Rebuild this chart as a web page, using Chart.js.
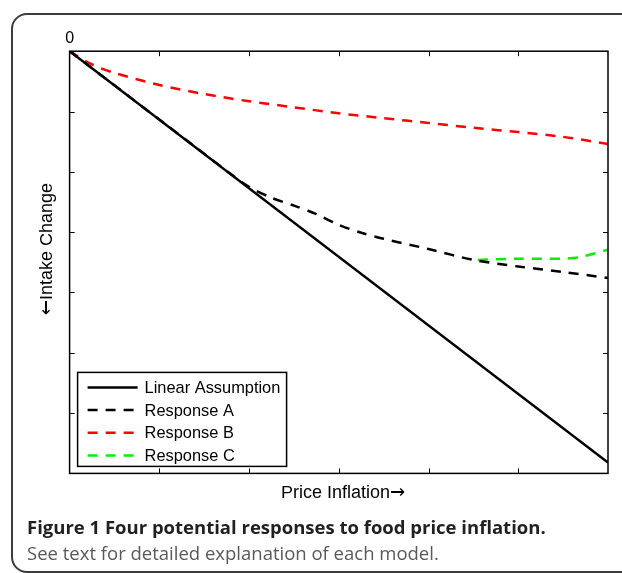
<!DOCTYPE html>
<html lang="en">
  <head>
    <meta charset="UTF-8" />
    <title>Four potential responses to food price inflation</title>
    <script src="https://cdn.jsdelivr.net/npm/chart.js@4.4.1/dist/chart.umd.min.js"></script>
  </head>
  <style>
    /* arrows from DejaVu, letters from Liberation */
    @font-face{
      font-family: "AxisFont";
      src: local("DejaVu Sans");
      unicode-range: U+2190-2193;
    }
    @font-face{
      font-family: "AxisFont";
      src: local("Liberation Sans");
      unicode-range: U+0000-218F;
    }
    body{
      margin: 0;
      width: 622px;
      height: 573px;
      overflow: hidden;
      position: relative;
      background: #fff;
    }
    .frame{
      position: absolute;
      left: 11px;
      top: 13px;
      width: 650px;
      height: 560px;
      border: 2px solid #3c3c3c;
      border-radius: 16px;
      box-sizing: border-box;
    }
    .mainBox{
      position: absolute;
      left: 0;
      top: 0;
      width: 622px;
      height: 573px;
    }
    .caption{
      position: absolute;
      left: 27px;
      top: 514px;
      font-family: "Open Sans", sans-serif;
      font-size: 18.5px;
      line-height: 26px;
      color: #58595b;
      white-space: nowrap;
    }
    .caption b{
      color: #231f20;
    }
  </style>

  <body>
    <div class="frame"></div>
    <div class="mainBox">
      <canvas id="myChart" width="622" height="573"></canvas>
    </div>
    <div class="caption">
      <b>Figure 1 Four potential responses to food price inflation.</b><br>
      See text for detailed explanation of each model.
    </div>
  </body>

  <script>
    // values (x: price inflation, y: intake change)
    var linearX = [0, 6];
    var linearY = [0, -6.82];

    var respAX = [0, 1.5, 1.8, 2, 2.25, 2.5, 2.75, 3, 3.25, 3.5, 4, 4.5, 5, 5.5, 6];
    var respAY = [0, -1.70, -2.04, -2.25, -2.43, -2.56, -2.70, -2.88, -3.01, -3.11, -3.28, -3.46, -3.57, -3.66, -3.76];

    var respBX = [0, 0.25, 0.5, 1, 1.5, 2, 2.5, 3, 3.5, 4, 4.5, 5, 5.5, 6];
    var respBY = [0, -0.22, -0.36, -0.56, -0.71, -0.83, -0.93, -1.03, -1.11, -1.19, -1.27, -1.34, -1.42, -1.54];

    var respCX = [4.55, 5, 5.5, 5.7, 6];
    var respCY = [-3.46, -3.44, -3.44, -3.41, -3.29];

    var xTicks = [1, 2, 3, 4, 5];
    var yTicks = [-1, -2, -3, -4, -5, -6];

    function toPoints(xs, ys){
      return xs.map(function(x, i){ return {x: x, y: ys[i]}; });
    }

    // box, inward tick marks and the legend inside the plot
    var matlabAxes = {
      id: 'matlabAxes',
      afterDatasetsDraw: function(chart){
        var ctx = chart.ctx;
        var a = chart.chartArea;
        var xs = chart.scales.x, ys = chart.scales.y;
        ctx.save();
        ctx.strokeStyle = '#000';
        ctx.lineWidth = 1.5;
        ctx.setLineDash([]);
        ctx.strokeRect(a.left, a.top, a.right - a.left, a.bottom - a.top);
        ctx.lineWidth = 1;
        ctx.beginPath();
        xTicks.forEach(function(v){
          var px = Math.round(xs.getPixelForValue(v)) + 0.5;
          ctx.moveTo(px, a.bottom); ctx.lineTo(px, a.bottom - 5);
          ctx.moveTo(px, a.top); ctx.lineTo(px, a.top + 5);
        });
        yTicks.forEach(function(v){
          var py = Math.round(ys.getPixelForValue(v)) + 0.5;
          ctx.moveTo(a.left, py); ctx.lineTo(a.left + 5, py);
          ctx.moveTo(a.right, py); ctx.lineTo(a.right - 5, py);
        });
        ctx.stroke();

        // legend
        var bx = a.left + 8, bw = 209, bh = 94;
        var by = a.bottom - 7 - bh;
        ctx.fillStyle = '#fff';
        ctx.fillRect(bx, by, bw, bh);
        ctx.lineWidth = 1.5;
        ctx.strokeRect(bx, by, bw, bh);
        ctx.font = '16.4px "Liberation Sans", Arial, sans-serif';
        ctx.textBaseline = 'middle';
        chart.data.datasets.forEach(function(ds, i){
          var cy = by + 15 + i * 22.7;
          ctx.strokeStyle = ds.borderColor;
          ctx.lineWidth = ds.borderWidth;
          ctx.setLineDash(ds.borderDash || []);
          ctx.beginPath();
          ctx.moveTo(bx + 10, cy); ctx.lineTo(bx + 60, cy);
          ctx.stroke();
          ctx.fillStyle = '#000';
          ctx.fillText(ds.label, bx + 67, cy + 1);
        });
        ctx.restore();
      }
    };

    function drawChart(){
      var ctx = document.getElementById('myChart');
      var titleFont = {family: 'AxisFont, "Liberation Sans", Arial, sans-serif', size: 18};
      new Chart(ctx, {
        type: 'scatter',
        data: {
          datasets: [
            {
              label: 'Linear Assumption',
              data: toPoints(linearX, linearY),
              showLine: true,
              borderColor: '#000',
              borderWidth: 2.5,
              pointRadius: 0,
              tension: 0
            },
            {
              label: 'Response A',
              data: toPoints(respAX, respAY),
              showLine: true,
              borderColor: '#000',
              borderWidth: 2.5,
              borderDash: [10, 8],
              pointRadius: 0,
              tension: 0.3
            },
            {
              label: 'Response B',
              data: toPoints(respBX, respBY),
              showLine: true,
              borderColor: '#ff0000',
              borderWidth: 2.5,
              borderDash: [10, 8],
              pointRadius: 0,
              tension: 0.3
            },
            {
              label: 'Response C',
              data: toPoints(respCX, respCY),
              showLine: true,
              borderColor: '#00f000',
              borderWidth: 2.5,
              borderDash: [10, 8],
              pointRadius: 0,
              tension: 0.3
            }
          ]
        },
        options: {
          responsive: false,
          animation: false,
          layout: {padding: {left: 36, top: 26, right: 14, bottom: 69}},
          plugins: {legend: {display: false}, tooltip: {enabled: false}},
          scales: {
            x: {
              type: 'linear', min: 0, max: 6,
              grid: {display: false, drawTicks: false},
              border: {display: false},
              ticks: {display: false},
              title: {display: true, text: '\u2002Price Inflation\u2192', color: '#000', font: titleFont, padding: {top: 9, bottom: 0}}
            },
            xTop: {
              type: 'linear', position: 'top', min: 0, max: 6,
              grid: {display: false, drawTicks: false},
              border: {display: false},
              ticks: {
                color: '#000', padding: 3, autoSkip: false, maxRotation: 0,
                font: {family: '"Liberation Sans", Arial, sans-serif', size: 16},
                callback: function(v){ return v === 0 ? '0' : ''; }
              }
            },
            y: {
              type: 'linear', min: -7, max: 0,
              grid: {display: false, drawTicks: false},
              border: {display: false},
              ticks: {display: false},
              title: {display: true, text: '\u2003\u2002\u2190Intake Change', color: '#000', font: titleFont, padding: {top: 0, bottom: 12}}
            }
          }
        },
        plugins: [matlabAxes]
      });
    }

    window.onload = function(){
      document.fonts.load('18px AxisFont', 'Price\u2190\u2192').then(drawChart, drawChart);
    };
  </script>
</html>
